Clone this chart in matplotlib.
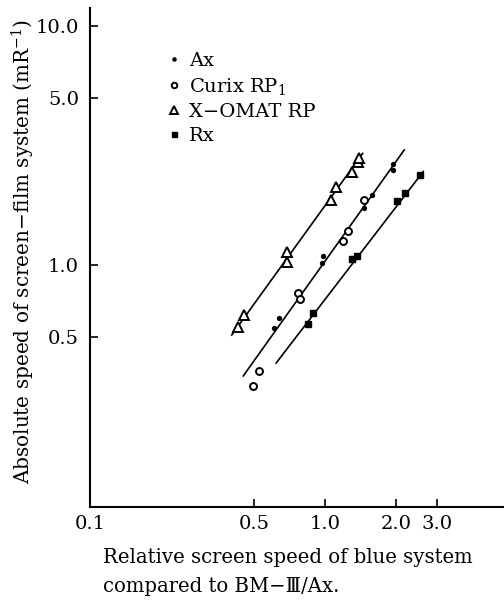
import matplotlib
matplotlib.use("Agg")
import matplotlib.pyplot as plt

# relative screen speed (x) vs absolute speed (y)
ax_x = [0.607, 0.637, 0.968, 0.978, 1.466, 1.58, 1.946, 1.946]
ax_y = [0.543, 0.598, 1.016, 1.09, 1.73, 1.96, 2.49, 2.65]

curix_x = [0.494, 0.525, 0.771, 0.783, 1.197, 1.256, 1.466]
curix_y = [0.310, 0.361, 0.766, 0.719, 1.26, 1.39, 1.87]

xomat_x = [0.425, 0.452, 0.687, 0.691, 1.06, 1.114, 1.30, 1.386, 1.395]
xomat_y = [0.552, 0.618, 1.026, 1.137, 1.87, 2.11, 2.46, 2.71, 2.80]

rx_x = [0.847, 0.893, 1.303, 1.368, 2.02, 2.19, 2.535]
rx_y = [0.567, 0.630, 1.063, 1.09, 1.85, 2.00, 2.39]

# fitted lines (end points)
fit_xomat_x = [0.401, 1.447]
fit_xomat_y = [0.509, 2.93]
fit_ax_x = [0.449, 2.175]
fit_ax_y = [0.343, 3.03]
fit_rx_x = [0.619, 2.62]
fit_rx_y = [0.388, 2.46]

x_ticks = [0.1, 0.5, 1.0, 2.0, 3.0]
x_labels = ["0.1", "0.5", "1.0", "2.0", "3.0"]
y_ticks = [0.5, 1.0, 5.0, 10.0]
y_labels = ["0.5", "1.0", "5.0", "10.0"]

plt.rcParams['font.family'] = ['DejaVu Serif', 'DejaVu Sans']
plt.rcParams['mathtext.fontset'] = 'dejavuserif'

fig = plt.figure(figsize=(5.04, 6.02), dpi=100)
ax = fig.add_axes([90 / 504, 1 - 507 / 602, 1 - 90 / 504, 499 / 602])

ax.set_xscale('log')
ax.set_yscale('log')

ax.plot(fit_xomat_x, fit_xomat_y, color='black', lw=1.2)
ax.plot(fit_ax_x, fit_ax_y, color='black', lw=1.2)
ax.plot(fit_rx_x, fit_rx_y, color='black', lw=1.2)

ax.plot(ax_x, ax_y, 'o', ms=2.8, color='black', label='Ax')
ax.plot(curix_x, curix_y, 'o', ms=5, mfc='white', mec='black', mew=1.4,
        label='Curix RP$_1$')
ax.plot(xomat_x, xomat_y, '^', ms=6.5, mfc='white', mec='black', mew=1.4,
        label='X\u2212OMAT RP')
ax.plot(rx_x, rx_y, 's', ms=4.5, color='black', label='Rx')

ax.set_xlim(0.1, 5.78)
ax.set_ylim(0.097, 11.9)

ax.set_xticks(x_ticks)
ax.set_xticklabels(x_labels)
ax.set_yticks(y_ticks)
ax.set_yticklabels(y_labels)
ax.minorticks_off()
ax.tick_params(direction='in', length=6, width=1.2, labelsize=14, pad=8)
ax.tick_params(axis='x', pad=6)

ax.spines['top'].set_visible(False)
ax.spines['right'].set_visible(False)
ax.spines['left'].set_linewidth(1.5)
ax.spines['bottom'].set_linewidth(1.5)

ax.set_ylabel('Absolute speed of screen\u2212film system (mR$^{-1}$)',
              fontsize=14.4)
ax.yaxis.set_label_coords(-53 / 414, 0.513)

leg = ax.legend(loc='upper left', bbox_to_anchor=(0.173, 0.927), frameon=False,
                fontsize=14, handlelength=0.5, handletextpad=0.5,
                labelspacing=0.3, borderaxespad=0, markerscale=0.8)

fig.text(103 / 504, 1 - 548 / 602,
         'Relative screen speed of blue system\ncompared to BM\u2212\u2162/Ax.',
         ha='left', va='top', fontsize=14.1, linespacing=1.65,
         family=['DejaVu Serif', 'DejaVu Sans', 'Noto Sans CJK JP'])

fig.savefig('out.png', dpi=100)
